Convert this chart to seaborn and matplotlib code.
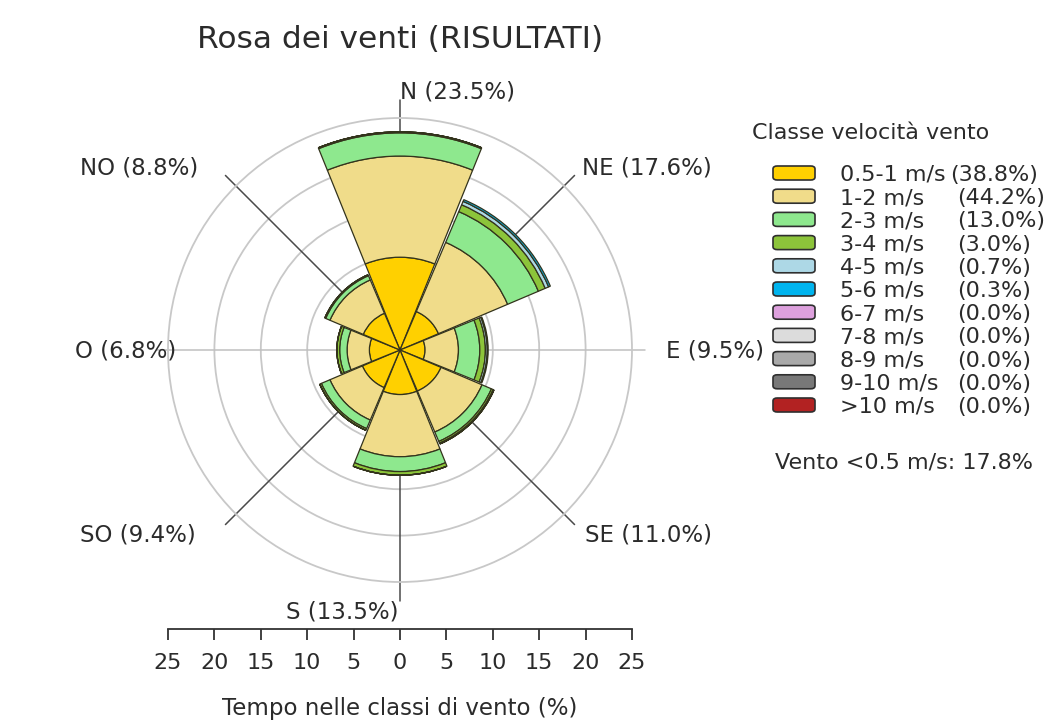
import numpy as np
import matplotlib
matplotlib.use("Agg")
import matplotlib.pyplot as plt
from matplotlib.patches import FancyBboxPatch
import seaborn as sns

# Wind rose data (% of time, calm excluded)
directions = ["N", "NE", "E", "SE", "S", "SO", "O", "NO"]
dir_angles = [0, 45, 90, 135, 180, 225, 270, 315]
dir_pct = [23.5, 17.6, 9.5, 11.0, 13.5, 9.4, 6.8, 8.8]

classes = ["0.5-1 m/s", "1-2 m/s", "2-3 m/s", "3-4 m/s", "4-5 m/s", "5-6 m/s",
           "6-7 m/s", "7-8 m/s", "8-9 m/s", "9-10 m/s", ">10 m/s"]
class_pct = [38.8, 44.2, 13.0, 3.0, 0.7, 0.3, 0.0, 0.0, 0.0, 0.0, 0.0]
class_colors = ["#FFD000", "#F0DC8A", "#8EE88E", "#8CC43A", "#ADD8E6", "#00B4EE",
                "#DDA0DD", "#DCDCDC", "#A9A9A9", "#787878", "#B22222"]

# values per speed class, in the order of `directions`
v_05_1 = [10.0, 4.5, 2.7, 4.8, 4.8, 4.4, 3.3, 4.3]
v_1_2 = [10.9, 8.1, 3.6, 4.8, 6.7, 3.8, 2.4, 3.9]
v_2_3 = [2.5, 3.6, 2.3, 1.1, 1.6, 1.0, 0.8, 0.5]
v_3_4 = [0.1, 0.8, 0.6, 0.2, 0.4, 0.2, 0.3, 0.1]
v_4_5 = [0.0, 0.4, 0.2, 0.1, 0.0, 0.0, 0.0, 0.0]
v_5_6 = [0.0, 0.2, 0.1, 0.0, 0.0, 0.0, 0.0, 0.0]
v_zero = [0.0] * 8
speed_values = [v_05_1, v_1_2, v_2_3, v_3_4, v_4_5, v_5_6,
                v_zero, v_zero, v_zero, v_zero, v_zero]

calm_pct = 17.8
ring_ticks = [5, 10, 15, 20]

sns.set_style("white")
plt.rcParams["font.family"] = ["DejaVu Sans"]
txt_color = "#2b2b2b"

W, H = 1050, 725
fig = plt.figure(figsize=(10.5, 7.25), dpi=100)
fig.patch.set_facecolor("white")


def fx(px):
    return px / W


def fy(py):
    return 1 - py / H


# polar axes: center (400, 350) px, radius 232 px
cx, cy, rad = 400, 350, 232
ax = fig.add_axes([fx(cx - rad), fy(cy + rad), 2 * rad / W, 2 * rad / H], projection="polar")
ax.set_theta_zero_location("N")
ax.set_theta_direction(-1)
ax.set_ylim(0, 25)
ax.set_yticks(ring_ticks)
ax.set_yticklabels([])
ax.set_xticks([])
ax.grid(True, color="#c8c8c8", lw=1.3)
ax.spines["polar"].set_color("#c8c8c8")
ax.spines["polar"].set_linewidth(1.3)
ax.set_facecolor("white")

theta = np.deg2rad(dir_angles)

# direction lines behind the bars
line_len = {"N": 26.9, "S": 27.0, "E": 26.4, "O": 26.2}
for d, a in zip(directions, dir_angles):
    r_end = line_len.get(d, 26.6)
    col = "#c0c0c0" if d in ("E", "O") else "#4a4a4a"
    ax.plot([np.deg2rad(a)] * 2, [0, r_end], color=col, lw=1.1,
            zorder=1, clip_on=False)

# stacked sectors
bottom = np.zeros(len(directions))
for vals, col in zip(speed_values, class_colors):
    vals = np.array(vals)
    if vals.sum() == 0:
        continue
    ax.bar(theta, vals, width=np.deg2rad(44), bottom=bottom, color=col,
           edgecolor="#33331c", linewidth=0.9, align="center", zorder=3)
    bottom += vals

# direction labels
label_pos = {"N": (400, 92, "left"), "NE": (582, 168, "left"), "E": (666, 351, "left"),
             "SE": (585, 535, "left"), "S": (398, 612, "right"), "SO": (80, 535, "left"),
             "O": (75, 351, "left"), "NO": (80, 168, "left")}
for d, p in zip(directions, dir_pct):
    x, y, ha = label_pos[d]
    fig.text(fx(x), fy(y), f"{d} ({p:.1f}%)", ha=ha, va="center",
             fontsize=16.5, color=txt_color)

# title
fig.text(fx(400), fy(40), "Rosa dei venti (RISULTATI)", ha="center", va="center",
         fontsize=22.5, color=txt_color)

# bottom scale axis
ax2 = fig.add_axes([fx(cx - rad), fy(629), 2 * rad / W, 0.0001])
ax2.set_xlim(-25, 25)
ax2.set_ylim(0, 1)
ticks = np.arange(-25, 26, 5)
ax2.set_xticks(ticks)
ax2.set_xticklabels([str(abs(t)) for t in ticks], fontsize=16, color=txt_color)
ax2.set_yticks([])
sns.despine(ax=ax2, left=True, top=True, right=True)
ax2.spines["bottom"].set_color("#333333")
ax2.spines["bottom"].set_linewidth(1.3)
ax2.tick_params(axis="x", bottom=True, direction="out", length=8, width=1.3,
                color="#333333", pad=9)
ax2.patch.set_alpha(0)
fig.text(fx(400), fy(708), "Tempo nelle classi di vento (%)", ha="center", va="center",
         fontsize=16.5, color=txt_color)

# legend
fig.text(fx(752), fy(133), "Classe velocità vento", ha="left", va="center",
         fontsize=16, color=txt_color)
row0, drow = 173, 23.2
for i, (name, pct, col) in enumerate(zip(classes, class_pct, class_colors)):
    y = row0 + i * drow
    box = FancyBboxPatch((fx(773), fy(y + 7)), fx(42), 14 / H,
                         boxstyle="round,pad=0,rounding_size=0.004",
                         transform=fig.transFigure, facecolor=col,
                         edgecolor="#2f2f2f", linewidth=1.2)
    fig.add_artist(box)
    fig.text(fx(840), fy(y + 2), name, ha="left", va="center", fontsize=16, color=txt_color)
    fig.text(fx(950 if i == 0 else 957), fy(y + 2), f"({pct:.1f}%)", ha="left",
             va="center", fontsize=16, color=txt_color)

fig.text(fx(775), fy(462), f"Vento <0.5 m/s: {calm_pct:.1f}%", ha="left", va="center",
         fontsize=16, color=txt_color)

fig.savefig("out.png", dpi=100, facecolor="white")
